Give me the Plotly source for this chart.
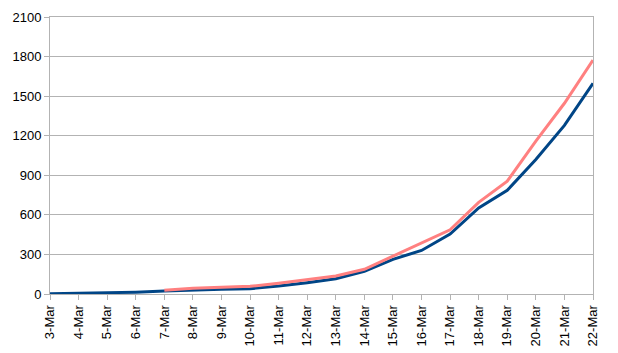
import plotly.graph_objects as go

dates = ["3-Mar", "4-Mar", "5-Mar", "6-Mar", "7-Mar", "8-Mar", "9-Mar", "10-Mar", "11-Mar", "12-Mar",
         "13-Mar", "14-Mar", "15-Mar", "16-Mar", "17-Mar", "18-Mar", "19-Mar", "20-Mar", "21-Mar", "22-Mar"]
blue_vals = [2, 5, 9, 14, 22, 30, 36, 40, 60, 86, 116, 172, 263, 330, 454, 652, 786, 1020, 1278, 1598]
pink_vals = [None, None, None, None, 28, 44, 51, 58, 81, 106, 136, 187, 288, 390, 487, 695, 855, 1159, 1446, 1773]
y_ticks = [0, 300, 600, 900, 1200, 1500, 1800, 2100]

fig = go.Figure()
fig.add_trace(go.Scatter(x=dates, y=blue_vals, mode="lines",
                         line=dict(color="#004586", width=3), showlegend=False))
fig.add_trace(go.Scatter(x=dates, y=pink_vals, mode="lines",
                         line=dict(color="#ff8080", width=3), showlegend=False))

fig.update_layout(
    width=618, height=353,
    margin=dict(l=50, r=25, t=17, b=59),
    paper_bgcolor="white", plot_bgcolor="white",
    font=dict(family="Liberation Sans, Arial, sans-serif", size=13, color="#000000"),
)
fig.update_xaxes(
    type="category", range=[0, len(dates) - 1], automargin=False,
    tickangle=-90, ticks="outside", ticklen=5, tickcolor="#b3b3b3",
    showline=True, linecolor="#b3b3b3", linewidth=1, mirror=True,
    showgrid=False, tickfont=dict(size=13),
)
fig.update_yaxes(
    range=[0, 2100], tickvals=y_ticks, automargin=False,
    ticks="outside", ticklen=5, tickcolor="#b3b3b3",
    showline=True, linecolor="#b3b3b3", linewidth=1, mirror=True,
    showgrid=True, gridcolor="#b3b3b3", gridwidth=1, zeroline=False,
    tickfont=dict(size=13),
)

fig.write_html("out.html")
